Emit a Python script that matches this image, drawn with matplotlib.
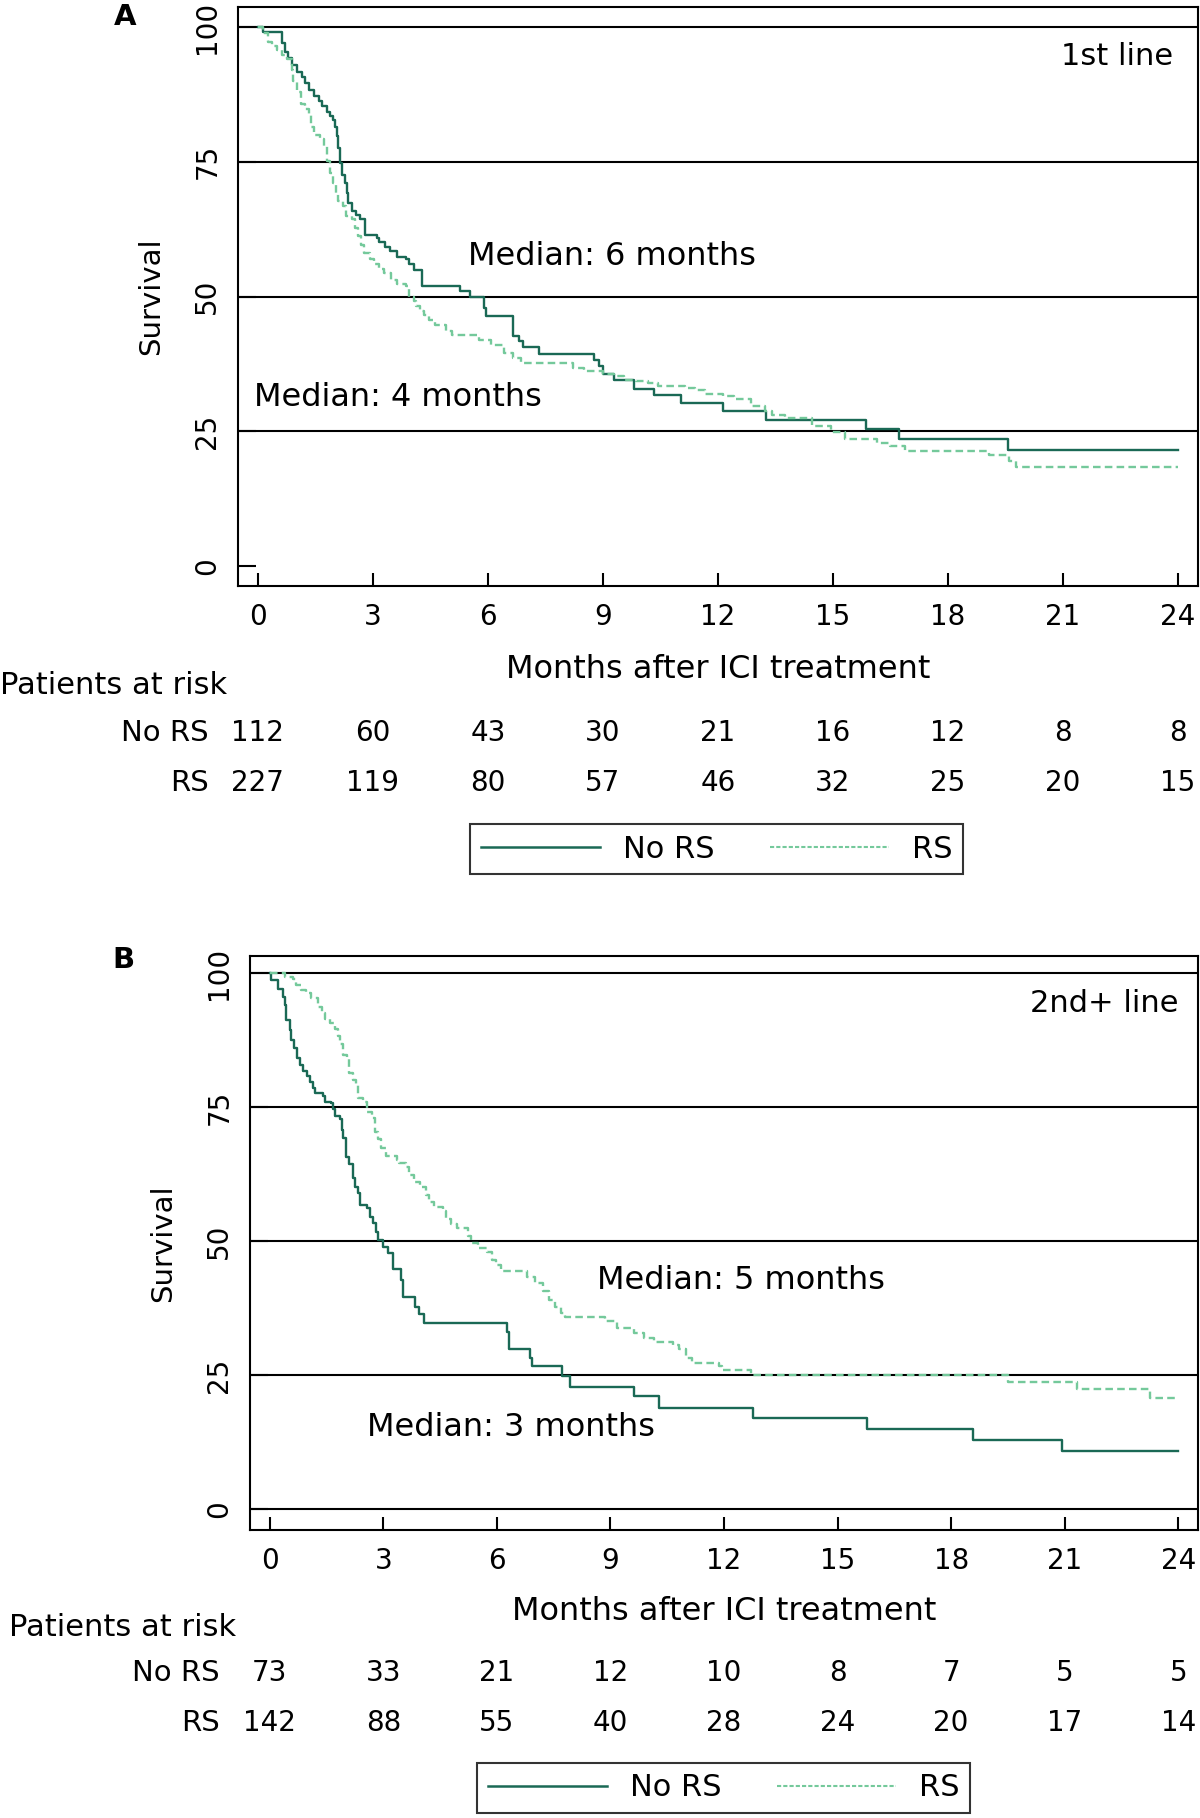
import matplotlib
matplotlib.use("Agg")
import matplotlib.pyplot as plt
from matplotlib.lines import Line2D
from matplotlib.transforms import blended_transform_factory

plt.rcParams["font.family"] = ["DejaVu Sans"]

# --- data ---
months = [0, 3, 6, 9, 12, 15, 18, 21, 24]
y_ticks = [0, 25, 50, 75, 100]

# panel A, 1st line
a_nors_t = [0, 0.14, 0.62, 0.71, 0.79, 0.88, 1.01, 1.14, 1.23, 1.34, 1.45, 1.58, 1.67,
            1.80, 1.88, 1.97, 2.01, 2.06, 2.10, 2.14, 2.19, 2.28, 2.32, 2.36, 2.45, 2.56,
            2.67, 2.80, 3.10, 3.15, 3.32, 3.45, 3.63, 3.85, 3.93, 4.06, 4.28, 5.28, 5.53,
            5.89, 5.96, 6.66, 6.81, 6.92, 7.33, 8.77, 8.90, 8.99, 9.29, 9.82, 10.34, 11.04,
            12.13, 13.26, 15.86, 16.71, 19.56, 24]
a_nors_s = [100, 99.0, 97.0, 95.4, 94.2, 93.0, 91.7, 90.8, 89.6, 88.3, 87.2, 86.2, 85.4,
            84.3, 83.4, 82.8, 81.5, 79.7, 77.5, 74.8, 72.6, 71.0, 69.2, 67.4, 65.8, 65.2,
            64.4, 61.5, 60.9, 60.1, 59.2, 58.4, 57.3, 57.0, 56.1, 54.9, 52.0, 51.0, 50.0,
            47.8, 46.4, 42.7, 41.7, 40.7, 39.3, 38.3, 37.1, 35.7, 34.6, 32.9, 31.7, 30.2,
            28.7, 27.1, 25.5, 23.5, 21.5, 21.5]
a_rs_t = [0, 0.14, 0.27, 0.36, 0.49, 0.62, 0.75, 0.88, 0.92, 1.01, 1.12, 1.23, 1.34, 1.38,
          1.46, 1.62, 1.73, 1.80, 1.88, 1.97, 2.04, 2.10, 2.21, 2.30, 2.45, 2.54, 2.62, 2.69,
          2.77, 2.91, 3.03, 3.17, 3.30, 3.47, 3.64, 3.87, 3.93, 4.06, 4.12, 4.24, 4.34, 4.46,
          4.61, 4.91, 5.06, 5.76, 6.07, 6.42, 6.64, 6.85, 8.21, 8.51, 8.99, 9.29, 9.56, 9.86,
          10.17, 10.43, 11.13, 11.39, 11.65, 12.13, 12.43, 12.87, 13.22, 13.40, 13.75, 14.44,
          14.96, 15.31, 16.14, 16.49, 16.88, 19.06, 19.58, 19.76, 24]
a_rs_s = [100, 98.8, 97.3, 96.5, 95.7, 94.8, 94.0, 92.0, 89.9, 88.0, 85.7, 84.7, 83.7, 81.5,
          80.0, 79.2, 78.0, 75.1, 72.9, 71.0, 69.2, 67.7, 66.7, 64.9, 64.3, 62.7, 61.3, 59.6,
          58.1, 56.9, 56.1, 55.1, 54.3, 53.1, 52.4, 51.9, 50.0, 49.1, 48.2, 47.4, 46.6, 45.7,
          44.8, 43.6, 42.9, 41.9, 41.0, 39.6, 38.6, 37.7, 36.8, 36.2, 35.7, 35.3, 34.6, 34.3,
          33.9, 33.4, 33.1, 32.7, 32.0, 31.5, 30.9, 29.7, 28.7, 28.1, 27.5, 25.9,
          24.8, 23.5, 22.9, 22.2, 21.4, 20.6, 19.5, 18.3, 18.3]
a_risk_nors = [112, 60, 43, 30, 21, 16, 12, 8, 8]
a_risk_rs = [227, 119, 80, 57, 46, 32, 25, 20, 15]

# panel B, 2nd+ line
b_nors_t = [0, 0.04, 0.22, 0.35, 0.40, 0.44, 0.53, 0.57, 0.63, 0.71, 0.79, 0.88, 0.99, 1.06,
            1.15, 1.19, 1.41, 1.45, 1.63, 1.67, 1.72, 1.85, 1.90, 1.94, 2.01, 2.10, 2.19,
            2.25, 2.34, 2.38, 2.56, 2.64, 2.73, 2.82, 2.86, 2.99, 3.13, 3.26, 3.48, 3.53,
            3.84, 3.94, 4.07, 6.27, 6.32, 6.87, 6.92, 7.73, 7.94, 9.61, 10.29, 12.77, 15.77,
            18.59, 20.93, 24]
b_nors_s = [100, 98.7, 97.1, 95.6, 94.0, 91.2, 89.4, 87.5, 86.0, 84.1, 82.9, 81.7, 80.8, 79.7,
            78.5, 77.6, 77.1, 76.0, 75.7, 74.6, 73.4, 72.8, 70.7, 69.2, 65.7, 64.3, 61.7,
            60.1, 58.9, 56.7, 56.1, 54.5, 53.3, 51.7, 50.2, 48.9, 47.7, 44.8, 42.7, 39.5,
            37.7, 36.3, 34.8, 33.1, 29.9, 28.1, 26.6, 24.9, 22.8, 21.1, 18.9, 17.0, 15.0,
            12.9, 10.8, 10.8]
b_rs_t = [0, 0.40, 0.62, 0.70, 0.84, 0.97, 1.10, 1.28, 1.37, 1.45, 1.59, 1.72, 1.81, 1.85,
          1.94, 2.04, 2.10, 2.19, 2.27, 2.34, 2.47, 2.56, 2.71, 2.78, 2.86, 2.95, 3.07, 3.35,
          3.42, 3.61, 3.68, 3.81, 3.98, 4.12, 4.21, 4.34, 4.57, 4.67, 4.80, 4.94, 5.24, 5.33,
          5.51, 5.73, 5.86, 5.99, 6.11, 6.79, 7.00, 7.23, 7.38, 7.53, 7.70, 7.80, 8.86, 9.18,
          9.63, 9.89, 10.14, 10.65, 10.80, 11.00, 11.15, 11.86, 11.96, 12.72, 19.50, 21.32,
          23.24, 24]
b_rs_s = [100, 99.3, 98.9, 97.8, 96.8, 96.2, 95.4, 93.7, 92.5, 91.5, 90.6, 89.6, 88.3, 86.7,
          84.8, 83.9, 81.4, 80.0, 79.1, 76.6, 75.9, 74.1, 72.9, 70.4, 69.0, 67.4, 65.9, 65.1,
          64.5, 63.9, 62.4, 61.0, 60.1, 58.6, 57.3, 56.4, 55.6, 54.2, 53.1, 52.4, 51.0, 49.7,
          48.7, 47.9, 46.5, 45.5, 44.4, 43.3, 42.2, 40.7, 39.0, 37.7, 36.5, 35.9, 35.1, 33.8,
          32.8, 32.0, 31.2, 30.7, 29.8, 28.2, 27.3, 26.7, 26.0, 25.0, 23.7, 22.4,
          20.8, 20.8]
b_risk_nors = [73, 33, 21, 12, 10, 8, 7, 5, 5]
b_risk_rs = [142, 88, 55, 40, 28, 24, 20, 17, 14]

DARK = "#1a6955"
LIGHT = "#74c99b"
LW = 1.5
CURVE_LW = 1.7
FIG_H = 1818


def fy(py):
    """Pixel row (from top) -> figure fraction."""
    return 1 - py / FIG_H


fig = plt.figure(figsize=(12, 18.18), dpi=100)


def draw_panel(rect, ylim, grid, curves, texts, letter, letter_xy,
               rows_py, risk_rows, names_x, patients_xy, xlabel_py, legend_xy):
    ax = fig.add_axes(rect)
    (t1, s1), (t2, s2) = curves
    ax.step(t1, s1, where="post", color=DARK, lw=CURVE_LW, zorder=3)
    ax.step(t2, s2, where="post", color=LIGHT, lw=CURVE_LW, dashes=(3.2, 1.8), zorder=3)
    for g in grid:
        ax.axhline(g, color="black", lw=LW, zorder=1)
    ax.set_xlim(-0.52, 24.52)
    ax.set_ylim(*ylim)
    ax.set_xticks(months)
    ax.set_yticks(y_ticks)
    ax.tick_params(axis="x", direction="in", length=9.5, width=LW, labelsize=20, pad=12)
    ax.tick_params(axis="y", direction="in", length=13, width=LW, labelsize=20, pad=12,
                   labelrotation=90)
    for lab in ax.get_yticklabels():
        lab.set_va("center")
    for sp in ax.spines.values():
        sp.set_linewidth(LW)
    ax.text(-87 / (rect[2] * 1200), 0.5, "Survival", transform=ax.transAxes,
            rotation=90, ha="center", va="center", fontsize=21)

    for x, y, s, ha, size in texts:
        ax.text(x, y, s, ha=ha, va="center", fontsize=size)

    fig.text(letter_xy[0] / 1200, fy(letter_xy[1]), letter, ha="center", va="center",
             fontsize=21, fontweight="bold")

    # axis title and number-at-risk table
    fig.text(rect[0] + rect[2] / 2, fy(xlabel_py), "Months after ICI treatment",
             ha="center", va="center", fontsize=23)
    fig.text(patients_xy[0] / 1200, fy(patients_xy[1]), "Patients at risk",
             ha="left", va="center", fontsize=22)
    trans = blended_transform_factory(ax.transData, fig.transFigure)
    for name, counts, py in zip(["No RS", "RS"], risk_rows, rows_py):
        fig.text(names_x / 1200, fy(py), name, ha="right", va="center", fontsize=21)
        for m, n in zip(months, counts):
            ax.text(m, fy(py), str(n), transform=trans, ha="center", va="center",
                    fontsize=20, clip_on=False)

    handles = [Line2D([], [], color=DARK, lw=LW + 0.3),
               Line2D([], [], color=LIGHT, lw=LW, dashes=(2, 1))]
    leg = fig.legend(handles, ["No RS", "RS"], loc="center", ncol=2,
                     bbox_to_anchor=(legend_xy[0] / 1200, fy(legend_xy[1])),
                     bbox_transform=fig.transFigure, fontsize=22, frameon=True,
                     fancybox=False, edgecolor="black", handlelength=3.9,
                     handletextpad=0.75, columnspacing=1.8, borderpad=0.35)
    leg.get_frame().set_linewidth(LW)
    return ax


draw_panel(
    rect=[238 / 1200, fy(586), 960 / 1200, (586 - 6.5) / FIG_H],
    ylim=(-3.7, 103.8),
    grid=[25, 50, 75, 100],
    curves=[(a_nors_t, a_nors_s), (a_rs_t, a_rs_s)],
    texts=[(23.88, 94.6, "1st line", "right", 22),
           (5.47, 57.4, "Median: 6 months", "left", 23),
           (-0.1, 31.3, "Median: 4 months", "left", 23)],
    letter="A", letter_xy=(125, 17),
    rows_py=[733, 783], risk_rows=[a_risk_nors, a_risk_rs], names_x=209,
    patients_xy=(0, 686), xlabel_py=670, legend_xy=(716.5, 849),
)

draw_panel(
    rect=[250 / 1200, fy(1530), 948 / 1200, (1530 - 955.6) / FIG_H],
    ylim=(-3.9, 103.25),
    grid=[0, 25, 50, 75, 100],
    curves=[(b_nors_t, b_nors_s), (b_rs_t, b_rs_s)],
    texts=[(24.0, 94.4, "2nd+ line", "right", 22),
           (8.64, 42.7, "Median: 5 months", "left", 23),
           (2.57, 15.3, "Median: 3 months", "left", 23)],
    letter="B", letter_xy=(123, 960),
    rows_py=[1673, 1723], risk_rows=[b_risk_nors, b_risk_rs], names_x=220,
    patients_xy=(9, 1628), xlabel_py=1612, legend_xy=(723.5, 1788),
)

fig.savefig("out.png", dpi=100, facecolor="white")
